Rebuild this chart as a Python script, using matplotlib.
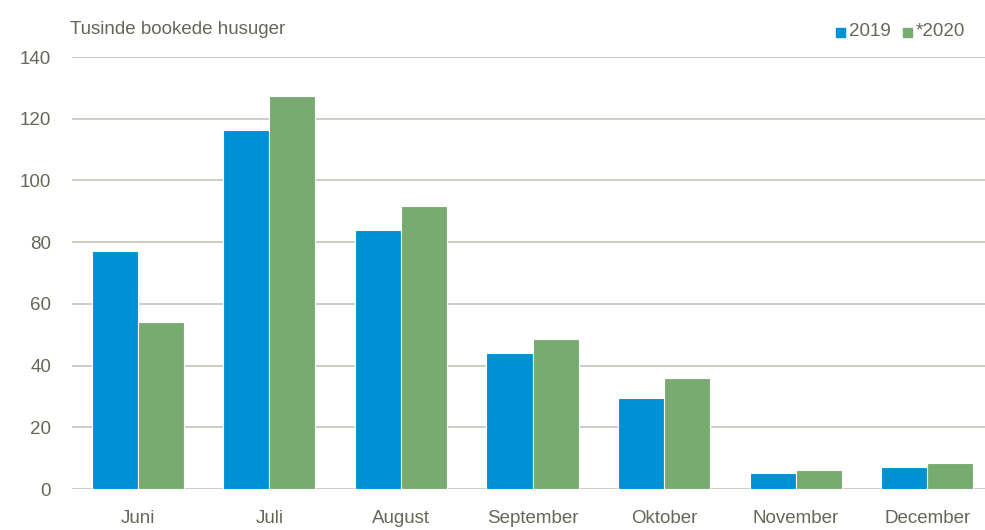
import matplotlib
matplotlib.use("Agg")
import matplotlib.pyplot as plt
import matplotlib.font_manager as fm
import numpy as np
from matplotlib.patches import Rectangle

months = ["Juni", "Juli", "August", "September", "Oktober", "November", "December"]
v2019 = [77, 116.3, 83.9, 44.1, 29.6, 5.2, 7.0]
v2020 = [54, 127.3, 91.7, 48.6, 36.0, 6.2, 8.3]
yticks = [0, 20, 40, 60, 80, 100, 120, 140]
series_labels = ["2019", "*2020"]
ylabel_text = "Tusinde bookede husuger"

names = {f.name for f in fm.fontManager.ttflist}
fam = "Liberation Sans Narrow" if "Liberation Sans Narrow" in names else "Liberation Sans"
plt.rcParams["font.family"] = [fam, "DejaVu Sans"]

blue = "#0090D4"
green = "#77AB6F"
txt = "#66665A"
grid = "#C9C9BD"

W, H = 985, 530
fig = plt.figure(figsize=(W / 100, H / 100), dpi=100)
left, right, bottom, top = 72, 993, 489, 57
ax = fig.add_axes([left / W, 1 - bottom / H, (right - left) / W, (bottom - top) / H])

x = np.arange(len(months))
bw = 0.35
ax.bar(x - bw / 2, v2019, bw, color=blue, edgecolor="white", linewidth=0.8, zorder=3)
ax.bar(x + bw / 2, v2020, bw, color=green, edgecolor="white", linewidth=0.8, zorder=3)

ax.set_xlim(-0.5, len(months) - 0.5)
ax.set_ylim(0, 140)
ax.set_yticks(yticks)
ax.set_yticklabels([str(t) for t in yticks])
ax.set_xticks(x)
ax.set_xticklabels(months)
ax.tick_params(axis="both", length=0, labelsize=13.5, colors=txt)
ax.tick_params(axis="y", pad=15)
ax.tick_params(axis="x", pad=15)
for s in ax.spines.values():
    s.set_visible(False)
ax.yaxis.grid(True, color=grid, linewidth=1.3, zorder=0)
ax.set_axisbelow(True)

fig.text(70 / W, 1 - 29 / H, ylabel_text, fontsize=13.5, color=txt, va="center", ha="left")

# legend
ly = 1 - 32 / H
sq = 9
for xs, col, lab in [(836, blue, series_labels[0]), (903, green, series_labels[1])]:
    fig.patches.append(Rectangle((xs / W, (H - 32 - sq / 2) / H), sq / W, sq / H,
                                 transform=fig.transFigure, color=col, figure=fig))
    fig.text((xs + sq + 4) / W, ly, lab, fontsize=13.5, color=txt, va="center", ha="left")

fig.savefig("out.png", dpi=100)
